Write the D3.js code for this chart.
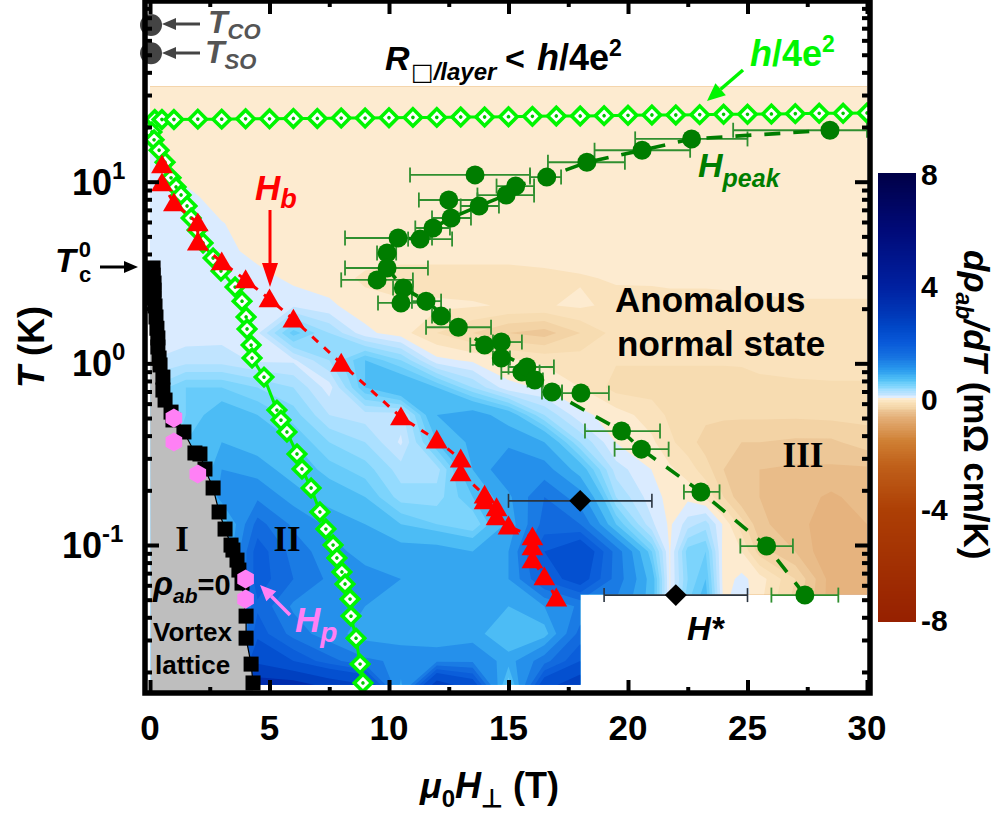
<!DOCTYPE html>
<html><head><meta charset="utf-8">
<script src="https://cdn.jsdelivr.net/npm/d3@7/dist/d3.min.js"></script>
<style>html,body{margin:0;padding:0;background:#fff}svg{display:block}text{font-family:"Liberation Sans",Arial,sans-serif;font-weight:bold}</style>
</head><body><svg id="c" width="995" height="818"></svg>
<script>
// ---------- data ----------
const hGrid=[0,1.5,3,4.5,6,7.5,9,10.5,12,13.5,15,16.5,18,19.5,21,21.75,22.5,23.25,24,24.75,25.5,27,28.5,30];
const tGrid=[33.3,23.5,16.6,11.8,8.3,5.9,4.16,2.94,2.08,1.47,1.04,0.736,0.52,0.368,0.26,0.184,0.13,0.092,0.065,0.046,0.0325,0.023,0.0163];
const A=-.05;
const dRho=[
[A,A,A,A,A,A,A,A,A,A,A,A,A,A,A,A,A,A,A,A,A,A,A,A],
[A,A,A,A,A,A,A,A,A,A,A,A,A,A,A,A,A,A,A,A,A,A,A,A],
[-.01,A,A,A,A,A,A,A,A,A,A,A,A,A,A,A,A,A,A,A,A,A,A,A],
[.05,A,A,A,A,A,A,A,A,A,A,A,A,A,A,A,A,A,A,A,A,A,A,A],
[.05,.03,A,A,A,A,A,A,A,A,A,A,A,A,A,A,A,A,A,A,A,A,A,A],
[.05,.05,.005,A,A,A,A,A,A,A,A,A,A,A,A,A,A,A,A,A,A,A,A,A],
[.05,.05,.05,A,A,A,A,A,A,A,A,A,A,A,A,A,A,A,A,A,A,A,A,A],
[.05,.05,.05,.05,-.03,-.05,-.12,-.15,-.15,-.15,-.15,-.13,-.11,-.09,-.08,-.07,-.07,-.07,-.07,-.07,-.07,-.07,-.07,-.07],
[.05,.05,.05,.05,.08,.02,-.06,-.08,-.08,-.09,-.11,-.11,-.08,-.13,-.15,-.15,-.15,-.15,-.14,-.13,-.12,-.11,-.11,-.11],
[.05,.05,.06,.08,.55,.3,.03,-.06,-.2,-.3,-.4,-.45,-.3,-.16,-.17,-.18,-.18,-.18,-.18,-.18,-.17,-.17,-.16,-.16],
[.1,.15,.15,.08,.08,.3,.6,.4,.03,-.02,-.08,-.12,-.15,-.19,-.19,-.19,-.19,-.19,-.19,-.19,-.18,-.18,-.17,-.17],
[.3,.5,.5,.4,.3,.05,.6,.8,.6,.3,.03,-.015,-.1,-.24,-.24,-.24,-.24,-.24,-.24,-.23,-.22,-.21,-.21,-.21],
[.3,.5,.7,.6,.45,.2,.15,.15,.8,.9,.7,.3,.03,-.05,-.15,-.22,-.25,-.27,-.28,-.28,-.28,-.28,-.27,-.27],
[.2,.6,.8,.7,.6,.4,.3,.08,.6,.85,.95,.8,.3,-.005,-.08,-.18,-.25,-.35,-.38,-.4,-.4,-.42,-.42,-.35],
[.2,.3,1,.9,.7,.55,.45,.25,.25,.8,1.2,1.1,.7,.15,-.002,-.08,-.15,-.25,-.4,-.5,-.5,-.52,-.52,-.52],
[.2,.3,1.1,1.2,.9,.7,.6,.35,.35,.6,.95,1.5,1.1,.3,.04,-.03,-.03,-.12,-.3,-.48,-.5,-.55,-.62,-.55],
[.2,.3,.6,1.6,1.2,.95,.8,.6,.5,.4,.85,1.6,1.5,.6,.12,-.02,.15,.25,-.02,-.25,-.48,-.55,-.68,-.6],
[.2,.3,.6,1.9,1.4,1.1,.9,.9,.9,.8,1,2,2.4,1.4,.5,-.01,.45,.5,-.05,-.1,-.35,-.5,-.7,-.6],
[.2,.3,.6,1.9,1.5,1.2,1.1,1,.9,.8,1,1.8,2.2,1.4,.7,-.01,.4,.6,-.05,.03,-.05,-.3,-.65,-.6],
[.2,.3,.6,1.7,1.2,1.1,1,.85,.9,.8,.8,1,1.3,1.2,.7,-.01,.5,.7,-.02,.08,-.08,-.35,-.65,-.6],
[.2,.3,.6,1.9,1.4,1.1,.9,.85,.8,.9,.6,.7,1.6,1,1,1,1,1,1,1,1,1,1,1],
[.2,.3,.6,2.4,2,1.6,1.3,1.2,1.2,1.2,.9,1.4,2,1,1,1,1,1,1,1,1,1,1,1],
[.2,.3,.6,3.4,3.4,3,2.7,.9,3,2.4,.4,2.4,3,1,1,1,1,1,1,1,1,1,1,1]
];
const heatTopT=33.3, heatBottomT=0.017, cutH=18, cutT=0.0535;
const bandThresholds=[-9,-2,-1,-.7,-.6,-.5,-.4,-.3,-.2,-.1,0,.1,.2,.3,.4,.5,.6,.8,1,1.25,1.5,1.75,2,2.5,3,4,5];
const colorStops=[-8,-4,-2.4,-1.55,-.7,-.5,-.4,-.3,-.2,-.1,-.05,-.0001,.0001,.05,.15,.3,.5,.7,1,1.5,2,2.5,3,4,6,8];
const colorVals=["#962000","#ad3f05","#c0601a","#cf7f33","#e4af78","#eac08f","#f0ce9e","#f5d8ac","#f9dfb6","#fbe5c2","#fdebd0","#fdebd0","#e6f2ff","#daebff","#c0e4ff","#a0deff","#70d0fb","#4cbcf5","#2a9bee","#1570e0","#0858d8","#0048c8","#0038b8","#0020a0","#000a78","#000048"];

const pkH=[28.45,22.66,20.59,18.28,16.6,15.3,14.9,13.6,13.77,12.5,12.6,11.84,11.3,10.38,9.92,9.92,9.5,10.6,10.5,11.55,12.18,12.9,14,14.7,14.7,15.56,15.77,16.1,16.82,18.03,19.73,20.56,23.05,25.8,27.4];
const pkT=[19.2,17.2,14.9,12.8,10.6,9.46,8.44,10.9,7.35,7.93,6.31,5.56,4.83,4.9,4.05,3.35,2.88,2.6,2.15,2.2,1.82,1.58,1.26,1.31,1.07,.895,.955,.81,.695,.686,.424,.337,.196,.0987,.053];
const pkLo=[24.4,20.3,18.6,16.65,15.9,14.5,13.7,10.88,13,11.25,11.8,11.1,10.8,8.16,9.5,8.16,8,10.17,9.54,10.96,11.8,11.55,13.4,14.35,14.35,14.7,15,15.8,16.4,17.24,18.2,19.44,22.34,24.7,26];
const pkHi=[30,25,22.6,19.87,17.2,16.07,16.07,15.9,14.6,13.7,13.43,12.55,12.64,11.8,10.3,11.63,11,11,11.6,12.18,12.55,14.27,14.5,15.56,15.06,16.3,16.9,16.44,17.24,19.2,21.34,21.7,23.83,26.9,28.8];
const pkGuideH=[27.4,25.8,23.05,20.56,19.73,16.82,15.77,14,12.9,11.55,10.6,9.92,9.92,10.38,11.3,11.84,12.6,13.77,14.9,15.3,16.6,18.28,20.59,22.66,28.45];
const pkGuideT=[.053,.0987,.196,.337,.424,.695,.955,1.26,1.58,2.2,2.6,3.35,4.05,4.9,4.83,5.56,6.31,7.35,8.44,9.46,10.6,12.8,14.9,17.2,19.2];

const hbH=[.5,.5,1,2,2,3,4,5,6,8,10.5,12,13,13,14,14,14.5,14.5,15,16,16,16,16.5,17];
const hbT=[12.35,9.83,7.63,5.92,4.65,3.61,2.88,2.26,1.75,1,.506,.378,.297,.249,.188,.175,.16,.1425,.127,.1106,.0974,.0826,.0666,.051];

const rqLowH=[.08,.17,.38,.63,.88,1.09,1.3,1.55,1.72,1.97,2.22,2.64,2.97,3.56,3.85,4.02,4.06,4.23,4.27,4.77,5.31,5.48,5.73,6.15,6.36,6.74,7.11,7.36,7.66,7.82,8.03,8.16,8.37,8.41,8.62,8.79,8.91];
const rqLowT=[18.8,17,14.9,12.8,10.5,9.35,8.45,7.35,6.31,5.42,4.6,3.8,3.22,2.63,2.2,1.8,1.545,1.26,1.07,.84,.553,.487,.419,.317,.262,.206,.152,.1224,.0999,.0848,.071,.061,.0504,.0406,.0307,.0221,.0174];
const rqTopH=[.2,.5,1,2,3,4,5,6,7,8,9,10,11,12,13,14,15,16,17,18,19,20,21,22,23,24,25,26,27,28,29,30];
const rqTopT=[22,22,22,22.1,22.1,22.2,22.2,22.3,22.3,22.4,22.4,22.5,22.6,22.6,22.7,22.7,22.8,22.9,23,23,23.1,23.2,23.3,23.3,23.4,23.5,23.5,23.6,23.7,23.8,23.8,23.9];

const vlH=[.13,.13,.17,.17,.17,.21,.25,.29,.33,.33,.38,.42,.54,.54,.63,.88,.96,1.42,1.88,2.09,2.3,2.64,2.89,3.14,3.39,3.47,3.64,3.72,3.85,4.02,4.02,4.23,4.31];
const vlT=[3.35,3.06,2.77,2.53,2.29,2.07,1.8,1.56,1.38,1.23,1.07,.98,.84,.713,.628,.539,.488,.419,.321,.317,.262,.206,.152,.1224,.0999,.0938,.0826,.0728,.0617,.0406,.0307,.0221,.0174];
const hpH=[1,1,2,4,4];
const hpT=[.5,.369,.246,.065,.0504];
const hsH=[18,22], hsT=[.175,.053], hsLo=[15,19], hsHi=[21,25];
const ordH=[0,0], ordT=[72.8,51];
const xMajor=[0,5,10,15,20,25,30], xMinor=[2.5,7.5,12.5,17.5,22.5,27.5];
const yMajor=[10,1,.1];
const yMinor=[90,80,70,60,50,40,30,20,9,8,7,6,5,4,3,2,.9,.8,.7,.6,.5,.4,.3,.2,.09,.08,.07,.06,.05,.04,.03,.02];
const cbTicks=[8,4,0,-4,-8];
const cbBase=[185,297,410,520,631];

// ---------- scales ----------
const svg=d3.select("#c");
const x=d3.scaleLinear().domain([0,30]).range([150,867]);
const y=d3.scaleLog().domain([.1,10]).range([545,181.7]);
const color=d3.scaleLinear().domain(colorStops).range(colorVals).clamp(true);
const ix=d3.scaleLinear().domain(hGrid.map((_,i)=>i)).range(hGrid.map(x));
const iy=d3.scaleLinear().domain(tGrid.map((_,i)=>i)).range(tGrid.map(y));
const cb=d3.scaleLinear().domain([-8,8]).range([621,173]);
const GREEN="#00f500";

// ---------- heat map ----------
const defs=svg.append("defs");
defs.append("clipPath").attr("id","hc").append("path").attr("d",
 d3.line()([[x(0),y(heatTopT)],[x(30),y(heatTopT)],[x(30),y(cutT)],[x(cutH),y(cutT)],[x(cutH),y(heatBottomT)],[x(0),y(heatBottomT)]])+"Z");
defs.append("clipPath").attr("id","pc").append("rect").attr("x",145).attr("y",0).attr("width",725).attr("height",693);
const flat=dRho.flat();
const contours=d3.contours().size([hGrid.length,tGrid.length]).thresholds(bandThresholds)(flat);
const proj=d3.geoTransform({point(a,b){this.stream.point(ix(a-.5),iy(b-.5));}});
const gp=d3.geoPath(proj);
svg.append("g").attr("clip-path","url(#hc)").selectAll("path").data(contours).join("path")
 .attr("d",gp).attr("fill",(d,i)=>{const a=bandThresholds[i],b=bandThresholds[i+1]===undefined?6:bandThresholds[i+1];return color((a+b)/2);});

// gray vortex-lattice region
const grayPts=[[x(0),y(vlT[0])]].concat(vlH.map((h,i)=>[x(h),y(vlT[i])]),[[x(vlH[vlH.length-1]),692],[x(0)+1,692]]);
svg.append("path").attr("d",d3.line()(grayPts)+"Z").attr("fill","#bebebe");

// ---------- order markers ----------
svg.selectAll(".ord").data(ordH).join("circle").attr("cx",d=>x(d)+1).attr("cy",(d,i)=>y(ordT[i])).attr("r",11).attr("fill","#444");

// ---------- lines ----------
const ln=(xs,ys)=>d3.line()(xs.map((h,i)=>[x(h),y(ys[i])]));
svg.append("path").attr("d",ln(vlH,vlT)).attr("fill","none").attr("stroke","#000").attr("stroke-width",1.2);
const plot=svg.append("g").attr("clip-path","url(#pc)");
plot.append("path").attr("d",ln(rqLowH,rqLowT)).attr("fill","none").attr("stroke",GREEN).attr("stroke-width",3);
plot.append("path").attr("d",ln(rqTopH,rqTopT)).attr("fill","none").attr("stroke",GREEN).attr("stroke-width",3);
const dia=d3.symbol().type(d3.symbolSquare).size(150)();
function diamonds(xs,ys){
 const g=plot.append("g").selectAll("g").data(xs).join("g").attr("transform",(d,i)=>`translate(${x(d)},${y(ys[i])}) rotate(45)`);
 g.append("path").attr("d",dia).attr("fill","#fff").attr("stroke",GREEN).attr("stroke-width",3.6);
 g.append("circle").attr("r",1.8).attr("fill","#00c800");
}
diamonds(rqTopH,rqTopT);
diamonds(rqLowH,rqLowT);

function ebars(H,T,Lo,Hi,col,w,cap){
 const g=svg.append("g").attr("stroke",col).attr("stroke-width",w);
 H.forEach((h,i)=>{const py=y(T[i]);
  g.append("line").attr("x1",x(Lo[i])).attr("x2",x(Hi[i])).attr("y1",py).attr("y2",py);
  [Lo[i],Hi[i]].forEach(v=>g.append("line").attr("x1",x(v)).attr("x2",x(v)).attr("y1",py-cap).attr("y2",py+cap));
 });
}
// Hpeak
ebars(pkH,pkT,pkLo,pkHi,"#2f8f2f",1.8,7.5);
svg.append("path").attr("d",ln(pkGuideH,pkGuideT)).attr("fill","none").attr("stroke","#007d00").attr("stroke-width",3.6).attr("stroke-dasharray","16 13");
svg.append("g").selectAll("circle").data(pkH).join("circle").attr("cx",d=>x(d)).attr("cy",(d,i)=>y(pkT[i])).attr("r",9.5).attr("fill","#007d00");

// Hb
svg.append("path").attr("d",ln(hbH,hbT)).attr("fill","none").attr("stroke","#ff0000").attr("stroke-width",3).attr("stroke-dasharray","8 8");
const tri=d3.symbol().type(d3.symbolTriangle).size(205)();
svg.append("g").selectAll("path").data(hbH).join("path").attr("d",tri).attr("fill","#ff0000")
 .attr("transform",(d,i)=>`translate(${x(d)},${y(hbT[i])+2})`);

// H*
ebars(hsH,hsT,hsLo,hsHi,"#2a3440",1.6,7);
const blackDia=d3.symbol().type(d3.symbolSquare).size(240)();
svg.append("g").selectAll("path").data(hsH).join("path").attr("d",blackDia).attr("fill","#000")
 .attr("transform",(d,i)=>`translate(${x(d)},${y(hsT[i])}) rotate(45)`);

// vortex squares
svg.append("g").selectAll("rect").data(vlH).join("rect").attr("x",d=>x(d)-7.5).attr("y",(d,i)=>y(vlT[i])-7.5).attr("width",15).attr("height",15).attr("fill","#000");

// Hp hexagons
const hexPath=d3.line()(d3.range(6).map(k=>[9.6*Math.sin(k*Math.PI/3),-9.6*Math.cos(k*Math.PI/3)]))+"Z";
svg.append("g").selectAll("path").data(hpH).join("path").attr("d",hexPath).attr("fill","#ff80f5")
 .attr("transform",(d,i)=>`translate(${x(d)},${y(hpT[i])})`);

// ---------- axes ----------
function ax(gen,tr,vals,size){
 const g=svg.append("g").attr("transform",tr).call(gen.tickValues(vals).tickSize(size).tickPadding(0).tickFormat(""));
 g.select(".domain").remove();
 g.selectAll("line").attr("stroke","#000").attr("stroke-width",4);
 return g;
}
ax(d3.axisBottom(x),"translate(0,693)",xMajor,-13);
ax(d3.axisBottom(x),"translate(0,693)",xMinor,-6);
ax(d3.axisTop(x),"translate(0,1)",xMajor,-13);
ax(d3.axisTop(x),"translate(0,1)",xMinor,-6);
ax(d3.axisLeft(y),"translate(145,0)",yMajor,-14);
ax(d3.axisLeft(y),"translate(145,0)",yMinor,-7);
ax(d3.axisRight(y),"translate(870,0)",yMajor,-15);
ax(d3.axisRight(y),"translate(870,0)",yMinor,-8);
svg.append("rect").attr("x",145).attr("y",1).attr("width",725).attr("height",692).attr("fill","none").attr("stroke","#000").attr("stroke-width",5.5);

// ---------- text helper ----------
function tx(px,py,parts,o={}){
 const t=svg.append("text").attr("x",px).attr("y",py).attr("fill",o.fill||"#000").attr("font-size",o.size||34)
  .attr("text-anchor",o.anchor||"start");
 if(o.rot!==undefined) t.attr("transform",`rotate(${o.rot},${px},${py})`);
 if(o.family) t.style("font-family",o.family);
 parts.forEach(p=>{
  if(typeof p==="string") p={t:p};
  const s=t.append("tspan").text(p.t);
  if(p.i) s.attr("font-style","italic");
  if(p.size) s.attr("font-size",p.size);
  if(p.x) s.attr("x",p.x);
  if(p.dy) s.attr("dy",p.dy);
  if(p.dx) s.attr("dx",p.dx);
  if(p.f) s.style("font-family",p.f);
 });
 return t;
}
function arrow(x1,y1,x2,y2,col,w,hl,hw){
 const a=Math.atan2(y2-y1,x2-x1),c=Math.cos(a),s=Math.sin(a);
 const bx=x2-hl*c,by=y2-hl*s;
 svg.append("line").attr("x1",x1).attr("y1",y1).attr("x2",bx).attr("y2",by).attr("stroke",col).attr("stroke-width",w);
 svg.append("path").attr("d",d3.line()([[x2,y2],[bx-hw*s,by+hw*c],[bx+hw*s,by-hw*c]])+"Z").attr("fill",col);
}

// tick labels
xMajor.forEach(v=>tx(x(v),740,[String(v)],{anchor:"middle",size:35}));
tx(72,195,["10",{t:"1",size:24,dy:-16}],{size:36});
tx(72,376,["10",{t:"0",size:24,dy:-16}],{size:36});
tx(62,558,["10",{t:"-1",size:24,dy:-16}],{size:36});
tx(44,388,[{t:"T",i:1}," (K)"],{size:36,rot:-90});
tx(420,798,[{t:"\u03bc",i:1},{t:"0",size:24,dy:9},{t:"H",i:1,dy:-9},{t:"\u22a5",size:25,dy:9},{t:" (T)",dy:-9}],{size:36});

// colour bar
const cbVals=d3.range(-8,8,.0625);
svg.append("g").attr("shape-rendering","crispEdges").selectAll("rect").data(cbVals).join("rect").attr("x",878).attr("width",38)
 .attr("y",d=>cb(d+.0625)).attr("height",d=>cb(d)-cb(d+.0625)+1).attr("fill",d=>color(d+.03));
cbTicks.forEach((v,i)=>tx(921,cbBase[i],[String(v)],{size:30}));
tx(964,250,[{t:"d\u03c1",i:1},{t:"ab",i:1,size:23,dy:8},{t:"/dT",i:1,dy:-8}," (m\u03a9 cm/K)"],{size:35,rot:90});

// annotations
arrow(200,24,162,24,"#444",3,14,6);
arrow(200,53,162,53,"#444",3,14,6);
tx(208,33,[{t:"T",i:1},{t:"CO",i:1,size:22,dy:6},{t:"T",i:1,x:205,dy:24},{t:"SO",i:1,size:22,dy:6}],{size:32,fill:"#555"});
tx(385,70,[{t:"R",i:1}],{size:34});
tx(411,80,[{t:"\u25a1",size:24,f:"'DejaVu Sans'"},{t:"/layer",i:1}],{size:24});
tx(505,70,["<"],{size:34});
tx(537,70,[{t:"h",i:1},"/4e",{t:"2",size:23,dy:-14}],{size:36});
tx(750,66,[{t:"h",i:1},"/4e",{t:"2",size:23,dy:-14}],{size:36,fill:GREEN});
arrow(743,70,707,101,GREEN,3.5,18,8);
tx(255,200,[{t:"H",i:1},{t:"b",i:1,size:27,dy:8}],{size:35,fill:"#ff0000"});
arrow(270,210,270,287,"#ff0000",3,24,8);
tx(698,177,[{t:"H",i:1},{t:"peak",i:1,size:25,dy:10}],{size:34,fill:"#007d00"});
tx(615,312,["Anomalous"],{size:35});
tx(617,356,["normal state"],{size:35});
tx(803,467,["III"],{size:35,anchor:"middle",family:"'Liberation Serif',serif"});
tx(182,551,["I"],{size:35,anchor:"middle",family:"'Liberation Serif',serif"});
tx(287,551,["II"],{size:35,anchor:"middle",family:"'Liberation Serif',serif"});
tx(153,595,[{t:"\u03c1",i:1,size:33},{t:"ab",i:1,size:21,dy:8},{t:"=0",dy:-8}],{size:29});
tx(153,641,["Vortex"],{size:26});
tx(155,674,["lattice"],{size:26});
tx(295,632,[{t:"H",i:1},{t:"p",i:1,size:28,dy:10}],{size:35,fill:"#ff80f5"});
arrow(290,615,260,585,"#ff80f5",3.5,16,7);
tx(687,640,[{t:"H*",i:1}],{size:33});
tx(55,272,[{t:"T",i:1},{t:"0",size:22,dy:-15,dx:3},{t:"c",size:22,dx:-12,dy:25}],{size:34});
arrow(100,267,138,267,"#000",3,14,6);
</script></body></html>
